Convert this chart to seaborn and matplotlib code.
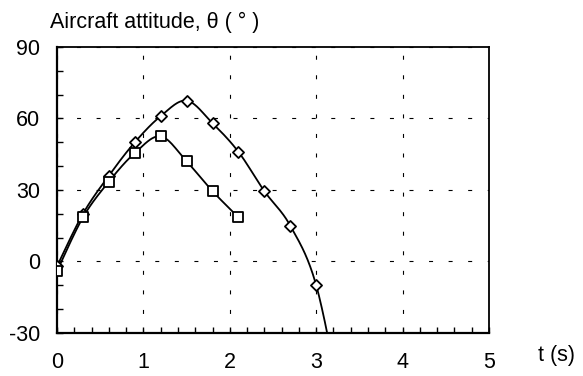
import numpy as np
import pandas as pd
import matplotlib
matplotlib.use("Agg")
import matplotlib.pyplot as plt
import seaborn as sns

# ---- data ----
t_diamond = [0.0, 0.3, 0.6, 0.9, 1.2, 1.5, 1.8, 2.1, 2.4, 2.7, 3.0, 3.3]
theta_diamond = [-2, 20, 36, 50, 61, 67.5, 58, 46, 29.5, 15, -10, -62]
t_square = [0.0, 0.3, 0.6, 0.9, 1.2, 1.5, 1.8, 2.1]
theta_square = [-4, 18.5, 33.5, 45.5, 52.5, 42, 29.5, 18.5]
x_ticks = [0, 1, 2, 3, 4, 5]
y_ticks = [-30, 0, 30, 60, 90]
y_label = "Aircraft attitude, θ ( ° )"
x_label = "t (s)"


def smooth(x, y, n=30):
    """Catmull-Rom smoothing (like a spreadsheet 'smoothed line')."""
    x = np.asarray(x, float)
    y = np.asarray(y, float)
    px = np.concatenate([[x[0]], x, [x[-1]]])
    py = np.concatenate([[y[0]], y, [y[-1]]])
    xs, ys = [], []
    s = np.linspace(0, 1, n, endpoint=False)
    for i in range(1, len(px) - 2):
        p0, p1, p2, p3 = (np.array([px[j], py[j]]) for j in range(i - 1, i + 3))
        m1 = (p2 - p0) / 2.0
        m2 = (p3 - p1) / 2.0
        h00 = 2 * s**3 - 3 * s**2 + 1
        h10 = s**3 - 2 * s**2 + s
        h01 = -2 * s**3 + 3 * s**2
        h11 = s**3 - s**2
        pts = (np.outer(h00, p1) + np.outer(h10, m1) + np.outer(h01, p2)
               + np.outer(h11, m2))
        xs.extend(pts[:, 0])
        ys.extend(pts[:, 1])
    xs.append(x[-1])
    ys.append(y[-1])
    return np.array(xs), np.array(ys)


sns.set_theme(style="white")
plt.rcParams["font.family"] = ["Liberation Sans", "DejaVu Sans"]

FS = 15.5

fig = plt.figure(figsize=(5.83, 3.76), dpi=100)
ax = fig.add_axes([0.0978, 0.1144, 0.7410, 0.7606])

sx, sy = smooth(t_diamond, theta_diamond)
sns.lineplot(x=sx, y=sy, sort=False, estimator=None, color="black",
             linewidth=1.3, ax=ax)
sx2, sy2 = smooth(t_square, theta_square)
sns.lineplot(x=sx2, y=sy2, sort=False, estimator=None, color="black",
             linewidth=1.3, ax=ax)

sns.scatterplot(x=t_diamond, y=theta_diamond, marker="D", s=32,
                facecolor="white", edgecolor="black", linewidth=1.3,
                ax=ax, zorder=5)
sns.scatterplot(x=t_square, y=theta_square, marker="s", s=52,
                facecolor="white", edgecolor="black", linewidth=1.3,
                ax=ax, zorder=5)

ax.set_xlim(0, 5)
ax.set_ylim(-30, 90)
ax.set_xticks(x_ticks)
ax.set_xticklabels([str(v) for v in x_ticks])
ax.set_yticks(y_ticks)
ax.set_yticklabels([str(v) for v in y_ticks])
ax.set_xticks(np.arange(0, 5.001, 0.2), minor=True)
ax.set_yticks(np.arange(-30, 90.001, 10), minor=True)

ax.grid(True, which="major", color="black", linewidth=0.8,
        linestyle=(0, (3.6, 14)))
ax.set_axisbelow(True)

ax.tick_params(axis="both", which="both", direction="in", colors="black",
               labelsize=FS)
ax.tick_params(axis="x", which="both", bottom=True, top=False, length=4,
               width=1, pad=14)
ax.tick_params(axis="y", which="both", left=True, right=False, length=4,
               width=1, pad=12)

for side in ["left", "bottom"]:
    ax.spines[side].set_linewidth(1.6)
for side in ["top", "right"]:
    ax.spines[side].set_linewidth(1.3)
for sp in ax.spines.values():
    sp.set_color("black")
    sp.set_visible(True)

ax.set_xlabel("")
ax.set_ylabel("")

fig.text(50 / 583, 1 - 28 / 376, y_label, fontsize=FS, ha="left",
         va="baseline", color="black")
fig.text(538 / 583, 1 - 361 / 376, x_label, fontsize=FS, ha="left",
         va="baseline", color="black")

fig.savefig("out.png", dpi=100)
